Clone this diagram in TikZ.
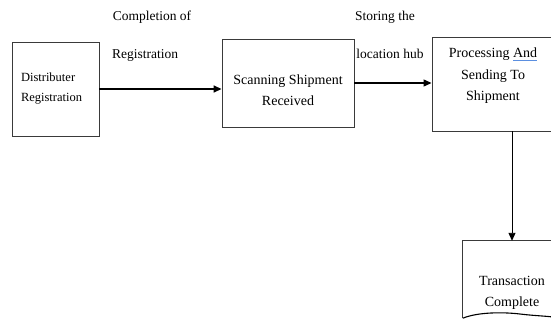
\documentclass[tikz,border=0pt]{standalone}
\usepackage{fontspec}
\setmainfont{Liberation Serif}
\usetikzlibrary{arrows.meta}
\definecolor{edgegray}{HTML}{3A3A3A}
\definecolor{checkblue}{HTML}{5B8FE0}
% blue underline under a single word
\newcommand{\checkmarkline}[1]{\setbox0\hbox{#1}%
  \rlap{\textcolor{checkblue}{\rule[-3.2pt]{\wd0}{1.5pt}}}\box0}
\tikzset{
  stepbox/.style={draw=edgegray, line width=0.9pt, inner sep=0pt},
  boxtext/.style={font=\fontsize{14}{21.5}\selectfont, align=center, inner sep=0pt},
  flowlabel/.style={font=\fontsize{13.5}{16}\selectfont, inner sep=0pt},
  flowarrow/.style={line width=1.1pt, draw=black, -{Triangle[length=8pt,width=7pt]}}
}
\begin{document}
\begin{tikzpicture}[x=1pt, y=-1pt]
  \useasboundingbox (0,0) rectangle (551,321);
  \clip (0,0) rectangle (551,321);

  % first box, text set flush left
  \node[stepbox, minimum width=87pt, minimum height=94pt, text width=69pt,
        inner xsep=9pt, align=left, font=\fontsize{12.5}{20}\selectfont]
        (reg) at (55.5,89) {Distributer\\Registration};

  % second box and its text
  \node[stepbox, minimum width=132pt, minimum height=88pt] (scan) at (288,83) {};
  \node[boxtext] (scantext) at (288,90) {Scanning Shipment\\Received};

  % third box, running past the right edge
  \node[stepbox, minimum width=122pt, minimum height=94pt] (proc) at (493,84) {};
  \node[boxtext] (proctext) at (493,76)
        {Processing \checkmarkline{And}\\Sending To\\Shipment};

  % document-shaped final box
  \node[minimum width=98pt, minimum height=77pt, inner sep=0pt] (done) at (512,279.5) {};
  \draw[edgegray, line width=0.9pt] (done.north east) -- (done.north west) -- (done.south west);
  \draw[black, line width=1.1pt] (done.south west)
        .. controls (478,312) and (503,312) .. (520,314)
        .. controls (536,316) and (550,316) .. (done.south east);
  \node[boxtext] (donetext) at (512,293) {Transaction\\Complete};

  % connector labels
  \node[flowlabel] (lab1a) at (152,17) {Completion of};
  \node[flowlabel] (lab1b) at (145,55) {Registration};
  \node[flowlabel] (lab2a) at (385,17) {Storing the};
  \node[flowlabel] (lab2b) at (390,54) {location hub};

  % connectors
  \draw[flowarrow, line width=1.6pt] (reg.east) -- (reg.east -| scan.west);
  \draw[flowarrow, line width=1.2pt] (scan.east) -- (scan.east -| proc.west);
  \draw[flowarrow, line width=0.9pt] (done.north |- proc.south) -- (done.north);
\end{tikzpicture}
\end{document}
